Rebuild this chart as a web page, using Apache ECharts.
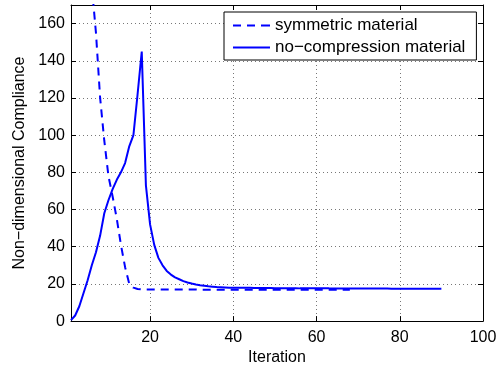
<!DOCTYPE html>
<html>
<head>
<meta charset="utf-8">
<script src="https://cdn.jsdelivr.net/npm/echarts@6/dist/echarts.min.js"></script>
<style>html,body{margin:0;padding:0;background:#fff;}#c{width:502px;height:371px;}</style>
</head>
<body>
<div id="c"></div>
<script>
var xTicks = [20, 40, 60, 80, 100];
var yTicks = [0, 20, 40, 60, 80, 100, 120, 140, 160];
var seriesNames = ['symmetric material', 'no\u2212compression material'];

var symVals = [520, 420, 330, 260, 210, 180, 155, 120, 97, 78,
  67, 55, 41, 29, 20, 18, 17.3, 17.1, 17.0, 17.0,
  17.0, 17.0, 17.0, 17.0, 17.0, 17.0, 17.0, 17.0, 17.0, 17.0,
  17.0, 16.9, 16.9, 16.9, 16.9, 16.9, 16.9, 16.9, 16.9, 16.9,
  16.9, 16.9, 16.9, 16.9, 16.9, 16.9, 16.9, 16.9, 16.9, 16.9,
  16.9, 16.9, 16.9, 16.9, 16.9, 16.9, 16.9, 16.9, 16.9, 16.9,
  16.9, 16.9, 16.9, 16.9, 16.9, 16.9, 16.9, 16.9];

var compVals = [0.5, 3, 8, 15, 22, 30, 37, 46, 58, 65,
  71, 76, 80, 85, 94, 100, 122, 145, 73, 52,
  41, 34, 30, 27, 25, 23.5, 22.5, 21.5, 20.8, 20.2,
  19.7, 19.3, 19.0, 18.7, 18.5, 18.3, 18.2, 18.1, 18.0, 18.0,
  17.9, 17.9, 17.9, 17.9, 17.8, 17.8, 17.8, 17.8, 17.8, 17.7,
  17.7, 17.7, 17.7, 17.7, 17.7, 17.6, 17.6, 17.6, 17.6, 17.6,
  17.6, 17.6, 17.6, 17.5, 17.5, 17.5, 17.5, 17.5, 17.5, 17.5,
  17.5, 17.5, 17.5, 17.5, 17.5, 17.5, 17.5, 17.4, 17.4, 17.4,
  17.4, 17.4, 17.4, 17.4, 17.4, 17.4, 17.4, 17.4, 17.4, 17.4];

function pairs(vals) {
  var out = [];
  for (var i = 0; i < vals.length; i++) out.push([i + 1, vals[i]]);
  return out;
}

var FONT = 'Liberation Sans, Arial, Helvetica, sans-serif';
var gridLine = {show: true, lineStyle: {color: '#777', type: [1, 3], width: 1}};
var axLine = {show: true, onZero: false, lineStyle: {color: '#000', width: 1}};
var tick = {show: true, inside: true, length: 5, lineStyle: {color: '#000'}};

var chart = echarts.init(document.getElementById('c'), null, {renderer: 'canvas'});
chart.setOption({
  animation: false,
  backgroundColor: '#fff',
  grid: {left: 71, right: 19, top: 5, bottom: 45, containLabel: false},
  legend: {
    orient: 'vertical',
    left: 224, top: 12,
    padding: [5, 11, 4, 9],
    itemGap: 5,
    itemWidth: 37, itemHeight: 2,
    backgroundColor: '#fff',
    borderColor: '#000', borderWidth: 1,
    textStyle: {fontFamily: FONT, fontSize: 17, color: '#000', lineHeight: 16},
    data: [
      {name: seriesNames[0], icon: 'path://M0,0h8v2h-8zM14,0h8v2h-8zM28,0h9v2h-9z', itemStyle: {color: '#0000ff'}},
      {name: seriesNames[1], icon: 'path://M0,0h37v2h-37z', itemStyle: {color: '#0000ff'}}
    ]
  },
  xAxis: [{
    type: 'value', min: 1, max: 100,
    name: 'Iteration', nameLocation: 'middle', nameGap: 22,
    nameTextStyle: {fontFamily: FONT, fontSize: 16, color: '#000'},
    axisLine: axLine, axisTick: Object.assign({customValues: xTicks}, tick),
    axisLabel: {customValues: xTicks, fontFamily: FONT, fontSize: 16, color: '#000', margin: 8},
    splitLine: gridLine
  }, {
    type: 'value', min: 1, max: 100, position: 'top',
    axisLine: axLine, axisTick: Object.assign({customValues: xTicks}, tick),
    axisLabel: {show: false}, splitLine: {show: false}
  }],
  yAxis: [{
    type: 'value', min: 0, max: 170,
    name: 'Non\u2212dimensional Compliance', nameLocation: 'middle', nameGap: 39,
    nameTextStyle: {fontFamily: FONT, fontSize: 16, color: '#000'},
    axisLine: axLine, axisTick: Object.assign({customValues: yTicks}, tick),
    axisLabel: {customValues: yTicks, fontFamily: FONT, fontSize: 16, color: '#000', margin: 6},
    splitLine: gridLine
  }, {
    type: 'value', min: 0, max: 170, position: 'right',
    axisLine: axLine, axisTick: Object.assign({customValues: yTicks}, tick),
    axisLabel: {show: false}, splitLine: {show: false}
  }],
  series: [{
    name: seriesNames[0], type: 'line', data: pairs(symVals),
    showSymbol: false, symbol: 'none', clip: true,
    lineStyle: {color: '#0000ff', width: 2, type: [8, 6]},
    itemStyle: {color: '#0000ff'}
  }, {
    name: seriesNames[1], type: 'line', data: pairs(compVals),
    showSymbol: false, symbol: 'none', clip: true,
    lineStyle: {color: '#0000ff', width: 2, type: 'solid'},
    itemStyle: {color: '#0000ff'}
  }]
});
</script>
</body>
</html>
